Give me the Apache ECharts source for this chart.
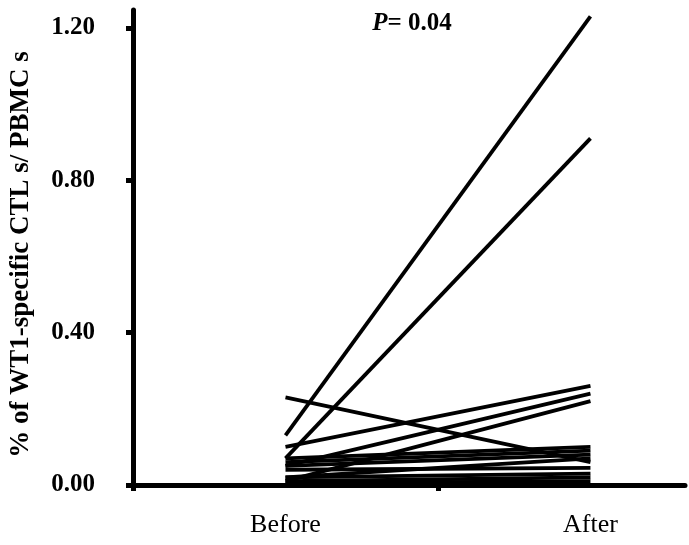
<!DOCTYPE html>
<html>
<head>
<meta charset="utf-8">
<script src="https://cdn.jsdelivr.net/npm/echarts@6/dist/echarts.min.js"></script>
<style>html,body{margin:0;padding:0;background:#fff;}#c{width:689px;height:545px;}</style>
</head>
<body>
<div id="c"></div>
<script>
var categories = ['Before', 'After'];
var beforeValues = [0.13, 0.07, 0.23, 0.10, 0.05, 0.01, 0.07, 0.06, 0.05, 0.02, 0.04, 0.02, 0.01, 0.005];
var afterValues  = [1.23, 0.91, 0.06, 0.26, 0.24, 0.22, 0.10, 0.09, 0.08, 0.07, 0.045, 0.03, 0.02, 0.01];
var yTicks = [0, 0.4, 0.8, 1.2];
var pText = '0.04';

var catPos = [0.5, 1.5];
var series = beforeValues.map(function (b, i) {
  return {
    type: 'line',
    showSymbol: false,
    symbol: 'none',
    silent: true,
    lineStyle: { color: '#000', width: 3.8 },
    data: [[catPos[0], b], [catPos[1], afterValues[i]]]
  };
});

var chart = echarts.init(document.getElementById('c'), null, { renderer: 'canvas' });
chart.setOption({
  animation: false,
  backgroundColor: '#fff',
  title: {
    text: '{i|P}{b|= ' + pText + '}',
    left: 407, top: 6, textAlign: 'center',
    textStyle: {
      rich: {
        i: { fontFamily: 'Liberation Serif', fontStyle: 'italic', fontWeight: 'bold', fontSize: 25, color: '#000' },
        b: { fontFamily: 'Liberation Serif', fontWeight: 'bold', fontSize: 25, color: '#000' }
      }
    }
  },
  grid: { left: 128, right: 4, top: 10, bottom: 60, containLabel: false },
  xAxis: {
    type: 'value', min: 0, max: 1.81,
    axisLine: { show: true, onZero: false, lineStyle: { color: '#000', width: 5 } },
    axisTick: { show: true, customValues: [0, 1], length: 6, lineStyle: { color: '#000', width: 5 } },
    axisLabel: {
      customValues: catPos, margin: 27,
      fontFamily: 'Liberation Serif', fontSize: 26, color: '#000',
      formatter: function (v) { return categories[Math.round(v - 0.5)]; }
    },
    splitLine: { show: false }
  },
  yAxis: {
    type: 'value', min: 0, max: 1.247,
    name: '% of WT1-specific CTL s/ PBMC s',
    nameLocation: 'middle', nameGap: 98,
    nameTextStyle: { fontFamily: 'Liberation Serif', fontWeight: 'bold', fontSize: 27, color: '#000', padding: [0, 14, 0, 0] },
    axisLine: { show: true, lineStyle: { color: '#000', width: 5 } },
    axisTick: { show: true, customValues: yTicks, length: 7, lineStyle: { color: '#000', width: 5 } },
    axisLabel: {
      customValues: yTicks, margin: 38,
      fontFamily: 'Liberation Serif', fontWeight: 'bold', fontSize: 25, color: '#000',
      formatter: function (v) { return v.toFixed(2); }
    },
    splitLine: { show: false }
  },
  series: series
});
</script>
</body>
</html>
